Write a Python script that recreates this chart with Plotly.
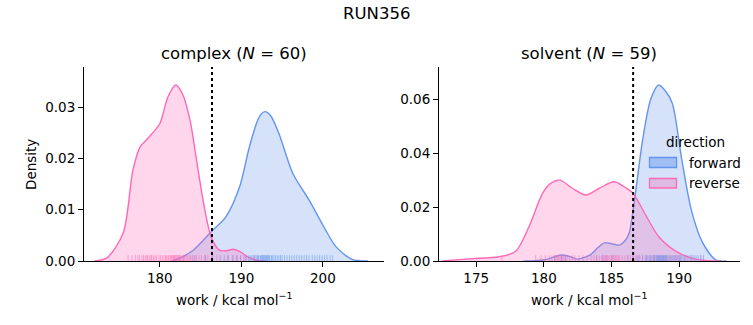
import plotly.graph_objects as go

# ---------------- data ----------------
# complex leg: KDE curves (work, density)
cx_fwd_x = [181.5, 182.5, 184.1, 186.3, 188.1, 189.8, 191.0, 192.2, 192.9, 193.6, 194.6, 196.3, 198.3, 199.9, 201.6, 203.6, 205.5]
cx_fwd_y = [0.0, 0.0006, 0.0021, 0.0057, 0.0086, 0.0145, 0.0223, 0.0281, 0.0291, 0.0283, 0.0249, 0.0171, 0.0119, 0.0073, 0.0028, 0.0003, 0.0]
cx_rev_x = [172.0, 173.5, 175.5, 176.7, 177.6, 178.6, 180.0, 181.0, 181.95, 182.8, 183.7, 184.5, 185.3, 186.3, 187.3, 188.2, 189.0, 189.9, 190.8, 192.0, 193.0]
cx_rev_y = [0.0, 0.0006, 0.0054, 0.0177, 0.0223, 0.0240, 0.0268, 0.0320, 0.0343, 0.0325, 0.0275, 0.0197, 0.0119, 0.0047, 0.0021, 0.0020, 0.0023, 0.0018, 0.0008, 0.0001, 0.0]
# solvent leg: KDE curves
sv_fwd_x = [178.5, 179.5, 180.2, 180.8, 181.4, 182.0, 182.5, 183.4, 184.0, 184.5, 185.0, 185.6, 186.0, 186.3, 186.7, 187.3, 187.9, 188.48, 189.0, 189.5, 190.2, 190.9, 191.7, 192.7, 193.5]
sv_fwd_y = [0.0, 0.0002, 0.0006, 0.0016, 0.0022, 0.0015, 0.0007, 0.0022, 0.0050, 0.0068, 0.0064, 0.0059, 0.0075, 0.0103, 0.0226, 0.0449, 0.0600, 0.0653, 0.0630, 0.0585, 0.0375, 0.0190, 0.0072, 0.0004, 0.0]
sv_rev_x = [172.5, 174.5, 176.7, 177.9, 178.9, 179.9, 180.5, 181.2, 182.1, 183.1, 184.1, 185.2, 186.1, 186.6, 187.6, 188.5, 189.8, 191.3, 193.0]
sv_rev_y = [0.0, 0.0008, 0.0016, 0.0035, 0.0127, 0.0251, 0.0288, 0.0300, 0.0270, 0.0245, 0.0270, 0.0294, 0.0270, 0.0251, 0.0164, 0.0090, 0.0035, 0.0006, 0.0]

# rug samples (approximate)
cx_fwd_w = [184.3, 185.6, 186.5, 187.4, 187.9, 188.4, 189.0, 189.5, 189.9, 190.3,
            190.6, 190.9, 191.1, 191.3, 191.5, 191.7, 191.9, 192.0, 192.1, 192.3,
            192.4, 192.5, 192.6, 192.7, 192.8, 192.9, 193.0, 193.1, 193.2, 193.3,
            193.4, 193.5, 193.7, 193.8, 194.0, 194.2, 194.4, 194.6, 194.8, 195.0,
            195.3, 195.6, 195.9, 196.2, 196.5, 196.8, 197.1, 197.4, 197.7, 198.0,
            198.3, 198.7, 199.0, 199.3, 199.6, 199.9, 200.2, 200.5, 200.9, 201.2]
cx_rev_w = [176.1, 176.6, 177.0, 177.3, 177.5, 177.8, 178.0, 178.2, 178.4, 178.5,
            178.7, 178.9, 179.0, 179.2, 179.4, 179.6, 179.9, 180.1, 180.3, 180.5,
            180.7, 180.8, 181.0, 181.1, 181.3, 181.4, 181.5, 181.6, 181.7, 181.8,
            181.9, 182.0, 182.1, 182.2, 182.3, 182.4, 182.5, 182.6, 182.8, 182.9,
            183.0, 183.2, 183.4, 183.6, 183.8, 184.0, 184.2, 184.5, 184.8, 185.1,
            185.5, 185.9, 186.4, 187.0, 188.3, 188.9, 189.4, 189.9, 190.5, 191.6]
sv_fwd_w = [180.8, 181.3, 181.6, 183.9, 184.3, 184.6, 185.1, 186.2, 186.6, 186.9,
            187.1, 187.3, 187.5, 187.6, 187.7, 187.8, 187.9, 188.0, 188.1, 188.15,
            188.2, 188.3, 188.35, 188.4, 188.45, 188.5, 188.55, 188.6, 188.65, 188.7,
            188.75, 188.8, 188.85, 188.9, 188.95, 189.0, 189.05, 189.1, 189.2, 189.3,
            189.4, 189.5, 189.6, 189.7, 189.8, 189.9, 190.0, 190.1, 190.2, 190.35,
            190.5, 190.65, 190.8, 190.95, 191.1, 191.25, 191.4, 191.6, 191.8]
sv_rev_w = [176.9, 179.4, 179.8, 180.1, 180.4, 180.6, 180.8, 180.9, 181.0, 181.1,
            181.2, 181.3, 181.4, 181.5, 181.7, 181.9, 182.1, 182.3, 182.6, 182.9,
            183.2, 183.5, 183.7, 183.9, 184.1, 184.3, 184.4, 184.5, 184.6, 184.7,
            184.8, 184.9, 185.0, 185.1, 185.2, 185.3, 185.4, 185.5, 185.6, 185.8,
            186.0, 186.2, 186.4, 186.6, 186.8, 187.0, 187.3, 187.6, 187.9, 188.2,
            188.5, 188.8, 189.1, 189.4, 189.7, 190.0, 190.4, 190.9, 191.6]

cx_dg = 186.4   # dotted reference line, complex
sv_dg = 186.6   # dotted reference line, solvent
cx_n, sv_n = 60, 59
title_text = "RUN356"
legend_title = "direction"
legend_labels = ["forward", "reverse"]
cx_xticks = [180, 190, 200]
cx_yticks = [0.0, 0.01, 0.02, 0.03]
sv_xticks = [175, 180, 185, 190]
sv_yticks = [0.0, 0.02, 0.04, 0.06]

# ---------------- styling ----------------
BLUE = "#6495ED"
PINK = "#FF69B4"
BLUE_FILL = "rgba(100,149,237,0.27)"
PINK_FILL = "rgba(255,105,180,0.27)"
BLUE_RUG = "rgba(100,149,237,0.55)"
PINK_RUG = "rgba(255,105,180,0.55)"
FONT = "DejaVu Sans"
TICK_SIZE = 13.5
TITLE_SIZE = 16.5

W, H = 753, 325
def fx(p):
    return p / W
def fy(p):
    return 1 - p / H

fig = go.Figure()

def add_kde(x, y, color, fill, name, xa, ya):
    fig.add_trace(go.Scatter(
        x=x, y=y, mode="lines", line=dict(color=color, width=1.4, shape="spline", smoothing=0.8),
        fill="tozeroy", fillcolor=fill, name=name, showlegend=False,
        xaxis=xa, yaxis=ya, hoverinfo="skip"))

add_kde(cx_fwd_x, cx_fwd_y, BLUE, BLUE_FILL, "forward", "x", "y")
add_kde(cx_rev_x, cx_rev_y, PINK, PINK_FILL, "reverse", "x", "y")
add_kde(sv_fwd_x, sv_fwd_y, BLUE, BLUE_FILL, "forward", "x2", "y2")
add_kde(sv_rev_x, sv_rev_y, PINK, PINK_FILL, "reverse", "x2", "y2")

shapes = []
def add_rug(vals, color, xref, yref):
    for v in vals:
        shapes.append(dict(type="line", xref=xref, yref=yref + " domain", x0=v, x1=v,
                           y0=0, y1=0.03, line=dict(color=color, width=1)))

add_rug(cx_fwd_w, BLUE_RUG, "x", "y")
add_rug(cx_rev_w, PINK_RUG, "x", "y")
add_rug(sv_fwd_w, BLUE_RUG, "x2", "y2")
add_rug(sv_rev_w, PINK_RUG, "x2", "y2")

shapes.append(dict(type="line", xref="x", yref="y domain", x0=cx_dg, x1=cx_dg, y0=0, y1=1,
                   line=dict(color="black", width=2, dash="dot")))
shapes.append(dict(type="line", xref="x2", yref="y2 domain", x0=sv_dg, x1=sv_dg, y0=0, y1=1,
                   line=dict(color="black", width=2, dash="dot")))

# legend (manual, matplotlib-style patches)
leg_fill = ["rgba(100,149,237,0.45)", "rgba(230,140,200,0.45)"]
leg_line = [BLUE, PINK]
leg_rows = [(157.5, 167.5), (178.5, 188)]
annotations = []
for (t, b), fc, lc, lab in zip(leg_rows, leg_fill, leg_line, legend_labels):
    shapes.append(dict(type="rect", xref="paper", yref="paper", x0=fx(649.5), x1=fx(676.5),
                       y0=fy(b), y1=fy(t), fillcolor=fc, line=dict(color=lc, width=1.3)))
    annotations.append(dict(text=lab, x=fx(687), y=fy((t + b) / 2), xref="paper", yref="paper",
                            showarrow=False, xanchor="left", yanchor="middle",
                            font=dict(family=FONT, size=TICK_SIZE, color="black")))
annotations.append(dict(text=legend_title, x=fx(695), y=fy(141.5), xref="paper", yref="paper",
                        showarrow=False, xanchor="center", yanchor="middle",
                        font=dict(family=FONT, size=TICK_SIZE, color="black")))

xlab = "work / kcal mol<sup>−1</sup>"
for cx in (234, 589):
    annotations.append(dict(text=xlab, x=fx(cx), y=fy(299), xref="paper", yref="paper",
                            showarrow=False, xanchor="center", yanchor="middle",
                            font=dict(family=FONT, size=TICK_SIZE, color="black")))
annotations.append(dict(text="Density", x=fx(31), y=fy(165), xref="paper", yref="paper",
                        showarrow=False, xanchor="center", yanchor="middle", textangle=-90,
                        font=dict(family=FONT, size=TICK_SIZE, color="black")))
annotations.append(dict(text=title_text, x=0.5, y=fy(13), xref="paper", yref="paper", showarrow=False,
                        font=dict(family=FONT, size=TITLE_SIZE, color="black"), xanchor="center", yanchor="middle"))
annotations.append(dict(text=f"complex (<i>N</i> = {cx_n})", x=fx(234), y=fy(54), xref="paper", yref="paper",
                        showarrow=False, font=dict(family=FONT, size=TITLE_SIZE, color="black"),
                        xanchor="center", yanchor="middle"))
annotations.append(dict(text=f"solvent (<i>N</i> = {sv_n})", x=fx(589), y=fy(54), xref="paper", yref="paper",
                        showarrow=False, font=dict(family=FONT, size=TITLE_SIZE, color="black"),
                        xanchor="center", yanchor="middle"))

axis_common = dict(showgrid=False, zeroline=False, showline=True, linecolor="black", linewidth=1,
                   ticks="outside", ticklen=5, tickwidth=1, tickcolor="black", automargin=False,
                   tickfont=dict(family=FONT, size=TICK_SIZE, color="black"), mirror=False)

fig.update_layout(
    width=W, height=H, margin=dict(l=0, r=0, t=0, b=0, autoexpand=False),
    paper_bgcolor="white", plot_bgcolor="white",
    font=dict(family=FONT, color="black"),
    shapes=shapes, annotations=annotations, showlegend=False,
    xaxis=dict(domain=[fx(84), fx(384)], range=[170.7, 207.5], tickvals=cx_xticks, anchor="y", **axis_common),
    yaxis=dict(domain=[fy(261), fy(67)], range=[0, 0.0378], tickvals=cx_yticks, tickformat=".2f",
               anchor="x", **axis_common),
    xaxis2=dict(domain=[fx(439), fx(740)], range=[172.25, 194.5], tickvals=sv_xticks, anchor="y2", **axis_common),
    yaxis2=dict(domain=[fy(261), fy(67)], range=[0, 0.072], tickvals=sv_yticks, tickformat=".2f",
                anchor="x2", **axis_common),
)

fig.write_html("out.html")
